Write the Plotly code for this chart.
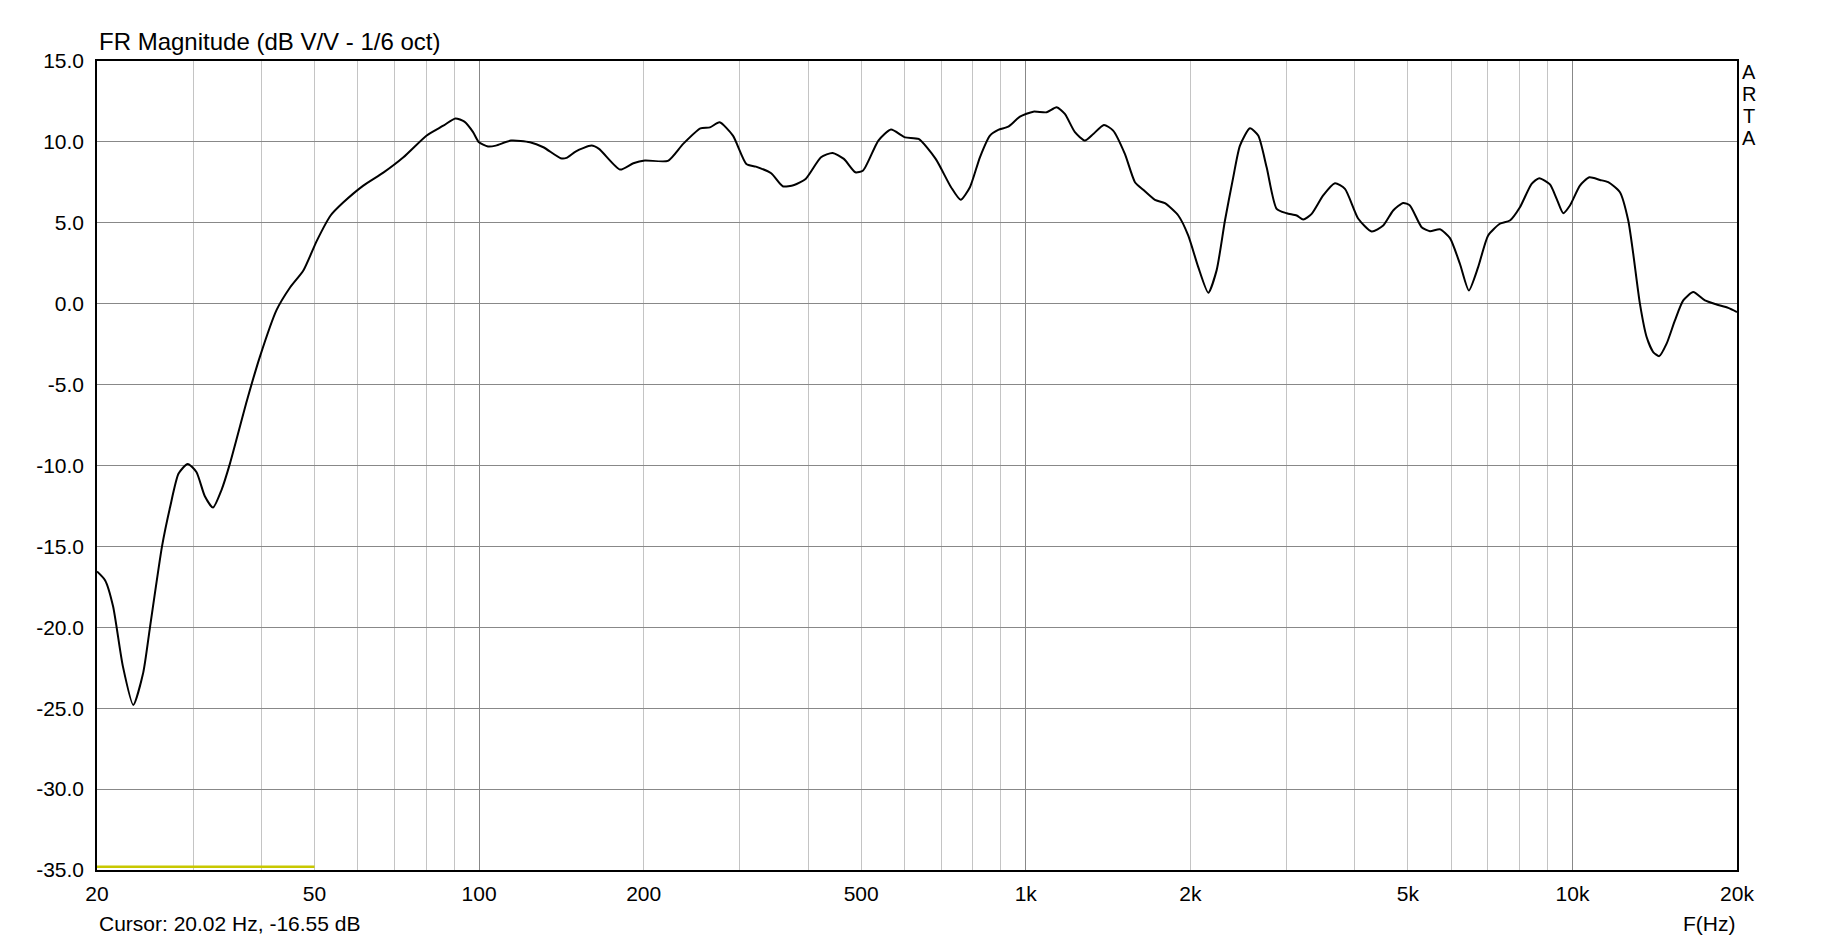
import math
import plotly.graph_objects as go

# ---- data (frequency in Hz, magnitude in dB) ----
freq_hz = [20.0, 20.7, 21.4, 22.3, 23.3, 24.3, 25.0, 26.3, 27.2, 28.2, 29.3, 30.4, 31.5, 32.6, 33.8,
           35.0, 37.6, 39.7, 42.6, 45.1, 47.7, 50.5, 53.5, 56.4, 61.4, 66.8, 72.7, 80.2, 86.0, 90.5,
           94.0, 97.5, 99.8, 103.8, 107.3, 114.4, 123.9, 131.1, 141.0, 144.5, 150.4, 160.5, 165.7,
           181.1, 191.5, 201.0, 221.5, 236.2, 254.0, 264.4, 275.4, 291.3, 308.2, 320.9, 342.2, 359.2,
           377.0, 395.7, 422.1, 443.0, 464.8, 487.9, 504.0, 537.5, 566.8, 601.7, 636.7, 684.2, 730.0,
           760.0, 790.4, 824.4, 860.0, 890.6, 929.0, 975.8, 1032, 1092, 1139, 1179, 1230, 1283, 1329,
           1390, 1445, 1518, 1584, 1640, 1723, 1797, 1901, 1982, 2068, 2157, 2234, 2314, 2396, 2465,
           2571, 2662, 2758, 2877, 3001, 3130, 3218, 3334, 3500, 3678, 3836, 4058, 4293, 4507, 4700,
           4902, 5043, 5298, 5486, 5722, 5970, 6225, 6464, 6722, 7012, 7367, 7684, 8016, 8420, 8694,
           9096, 9357, 9620, 9895, 10321, 10734, 11229, 11628, 12215, 12650, 12918, 13287, 13668,
           14052, 14412, 14868, 15399, 15948, 16634, 17472, 18354, 19272, 20000]
mag_db = [-16.55, -17.1, -18.7, -22.4, -24.8, -22.8, -20.0, -15.0, -12.6, -10.5, -9.9, -10.4, -11.9, -12.6, -11.5,
          -9.9, -6.0, -3.3, -0.4, 1.0, 2.05, 3.9, 5.45, 6.25, 7.3, 8.1, 9.05, 10.4, 11.0, 11.45,
          11.25, 10.6, 10.0, 9.72, 9.77, 10.08, 9.98, 9.67, 8.99, 9.01, 9.42, 9.77, 9.57,
          8.29, 8.68, 8.85, 8.83, 9.88, 10.84, 10.9, 11.21, 10.39, 8.64, 8.47, 8.06, 7.26,
          7.34, 7.71, 9.05, 9.32, 8.95, 8.12, 8.23, 10.08, 10.76, 10.28, 10.18, 8.95, 7.2,
          6.42, 7.2, 9.05, 10.39, 10.74, 10.94, 11.56, 11.87, 11.83, 12.14, 11.73, 10.6, 10.08, 10.49,
          11.05, 10.7, 9.26, 7.51, 7.04, 6.42, 6.21, 5.45, 4.22, 2.26, 0.68, 2.06, 5.14, 7.81, 9.77,
          10.84, 10.39, 8.43, 5.86, 5.59, 5.45, 5.2, 5.55, 6.69, 7.44, 7.1, 5.25, 4.46, 4.83, 5.76,
          6.23, 6.07, 4.73, 4.48, 4.6, 4.05, 2.47, 0.82, 2.26, 4.22, 4.94, 5.14, 5.96, 7.41, 7.76,
          7.37, 6.48, 5.59, 6.07, 7.3, 7.81, 7.65, 7.51, 6.89, 5.14, 3.09, 0.0, -2.06,
          -2.99, -3.24, -2.47, -1.03, 0.2, 0.72, 0.2, -0.05, -0.26, -0.52]

marker_freq = [20, 50]
marker_db = [-34.8, -34.8]

label_ticks = [20, 50, 100, 200, 500, 1000, 2000, 5000, 10000, 20000]
label_text = ["20", "50", "100", "200", "500", "1k", "2k", "5k", "10k", "20k"]
decade_ticks = [100, 1000, 10000]
y_ticks = [15, 10, 5, 0, -5, -10, -15, -20, -25, -30, -35]
y_text = ["15.0", "10.0", "5.0", "0.0", "-5.0", "-10.0", "-15.0", "-20.0", "-25.0", "-30.0", "-35.0"]

title_text = "FR Magnitude (dB V/V - 1/6 oct)"
cursor_text = "Cursor: 20.02 Hz, -16.55 dB"
x_title = "F(Hz)"
side_text = ["A", "R", "T", "A"]

# all grid positions: 1..9 multiples per decade
grid_ticks = []
for dec in [10, 100, 1000, 10000]:
    for m in range(1, 10):
        v = m * dec
        if 20 <= v <= 20000:
            grid_ticks.append(v)
grid_ticks.append(20000)
grid_text = [label_text[label_ticks.index(v)] if v in label_ticks else "" for v in grid_ticks]

FONT = "Liberation Sans, Arial, sans-serif"

fig = go.Figure()
fig.add_trace(go.Scatter(x=freq_hz, y=mag_db, mode="lines",
                         line=dict(color="black", width=2, shape="spline", smoothing=0.6),
                         hoverinfo="skip", showlegend=False))
fig.add_trace(go.Scatter(x=marker_freq, y=marker_db, mode="lines", xaxis="x2",
                         line=dict(color="#c8c800", width=2.5),
                         hoverinfo="skip", showlegend=False))

xr = [math.log10(20), math.log10(20000)]
# page body has an 8px margin: the figure is shifted by (8,8)
fig.update_layout(
    width=1825, height=934,
    margin=dict(l=89, r=96, t=53, b=72),
    paper_bgcolor="white", plot_bgcolor="white",
    font=dict(family=FONT, size=21, color="black"),
    xaxis=dict(type="log", range=xr, tickmode="array", tickvals=grid_ticks, ticktext=grid_text,
               showgrid=True, gridcolor="#c4c4c4", gridwidth=1,
               ticks="outside", ticklen=0, ticklabelstandoff=4,
               showline=True, linecolor="black", linewidth=1.5, mirror=True,
               zeroline=False, tickfont=dict(size=21)),
    xaxis2=dict(type="log", range=xr, overlaying="x", tickmode="array", tickvals=decade_ticks,
                showticklabels=False, showgrid=True, gridcolor="#888888", gridwidth=1,
                ticks="", showline=False, zeroline=False),
    yaxis=dict(range=[-35, 15], tickmode="array", tickvals=y_ticks, ticktext=y_text,
               showgrid=True, gridcolor="#888888", gridwidth=1,
               ticks="outside", ticklen=0, ticklabelstandoff=7,
               showline=True, linecolor="black", linewidth=1.5, mirror=True,
               zeroline=False, tickfont=dict(size=21)),
)

anns = [
    dict(text=title_text, xref="paper", yref="paper", x=0, y=(870 - 41.5) / 809,
         xanchor="left", yanchor="middle", showarrow=False, font=dict(size=24, family=FONT)),
    dict(text=cursor_text, xref="paper", yref="paper", x=0, y=(870 - 924) / 809,
         xanchor="left", yanchor="middle", showarrow=False, font=dict(size=21, family=FONT)),
    dict(text=x_title, xref="paper", yref="paper", x=1, y=(870 - 924) / 809,
         xanchor="right", yanchor="middle", showarrow=False, font=dict(size=21, family=FONT)),
]
for i, ch in enumerate(side_text):
    anns.append(dict(text=ch, xref="paper", yref="paper", x=(1749 - 97) / 1640,
                     y=(870 - (72 + 22 * i)) / 809, xanchor="center", yanchor="middle",
                     showarrow=False, font=dict(size=20, family=FONT)))
fig.update_layout(annotations=anns)

fig.write_html("out.html")
